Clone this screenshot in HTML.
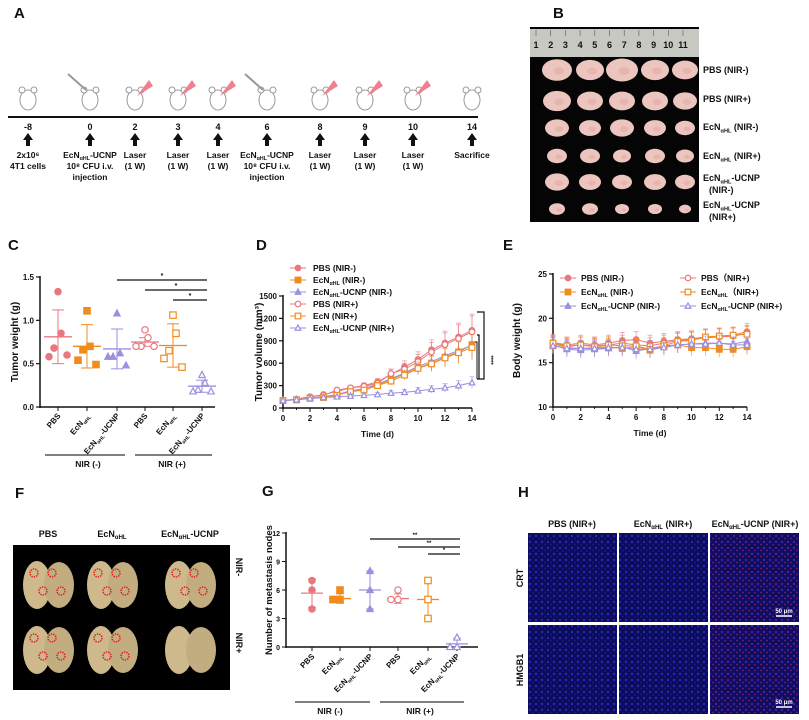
<!DOCTYPE html>
<html><head><meta charset="utf-8">
<style>
body{margin:0;background:#fff;}
svg{display:block;font-family:"Liberation Sans",Arial,sans-serif;}
text{font-family:"Liberation Sans",Arial,sans-serif;font-weight:bold;fill:#111;}
</style></head>
<body>
<svg id="fig" width="809" height="720" viewBox="0 0 809 720">
<defs>
<pattern id="cells" width="6" height="6" patternUnits="userSpaceOnUse">
<rect width="6" height="6" fill="#0c0c5a"/><circle cx="2" cy="2" r="1.2" fill="#2828b8"/><circle cx="5" cy="4.5" r="0.9" fill="#1c1c90"/></pattern>
<pattern id="cellsR" width="6" height="6" patternUnits="userSpaceOnUse">
<rect width="6" height="6" fill="#120c5a"/><circle cx="2" cy="2" r="1.2" fill="#3028b8"/><circle cx="5" cy="4.5" r="0.9" fill="#702070"/></pattern>
</defs>
<text x="14" y="18" font-size="15">A</text>
<text x="553" y="18" font-size="15">B</text>
<text x="8" y="250" font-size="15">C</text>
<text x="256" y="250" font-size="15">D</text>
<text x="503" y="250" font-size="15">E</text>
<text x="15" y="498" font-size="15">F</text>
<text x="262" y="496" font-size="15">G</text>
<text x="518" y="497" font-size="15">H</text>

<g id="panelA">
<line x1="8" y1="117" x2="478" y2="117" stroke="#111" stroke-width="2"/>
</g>

<g id="panelB">
<rect x="530" y="27" width="169" height="195" fill="#050505"/>
<rect x="530" y="29" width="169" height="28" fill="#c8c8c2"/>
</g>

<g id="panelF">
<text x="48" y="537" font-size="9" text-anchor="middle">PBS</text>
<text x="112" y="537" font-size="9" text-anchor="middle">EcN<tspan font-size="6" dy="2">αHL</tspan></text>
<text x="190" y="537" font-size="9" text-anchor="middle">EcN<tspan font-size="6" dy="2">αHL</tspan><tspan dy="-2">-UCNP</tspan></text>
<rect x="13" y="545" width="217" height="145" fill="#000"/>
<text transform="translate(236,567) rotate(90)" font-size="9" text-anchor="middle">NIR-</text>
<text transform="translate(236,643) rotate(90)" font-size="9" text-anchor="middle">NIR+</text>
</g>

<g id="panelH">
<text x="572" y="527" font-size="9" text-anchor="middle">PBS (NIR+)</text>
<text x="663" y="527" font-size="9" text-anchor="middle">EcN<tspan font-size="6" dy="2">αHL</tspan><tspan dy="-2"> (NIR+)</tspan></text>
<text x="755" y="527" font-size="9" text-anchor="middle">EcN<tspan font-size="6" dy="2">αHL</tspan><tspan dy="-2">-UCNP (NIR+)</tspan></text>
<rect x="528" y="533" width="89" height="89" fill="url(#cells)"/>
<rect x="619" y="533" width="89" height="89" fill="url(#cells)"/>
<rect x="710" y="533" width="89" height="89" fill="url(#cellsR)"/>
<rect x="528" y="625" width="89" height="89" fill="url(#cells)"/>
<rect x="619" y="625" width="89" height="89" fill="url(#cells)"/>
<rect x="710" y="625" width="89" height="89" fill="url(#cellsR)"/>
<text x="784" y="613" font-size="6" style="fill:#fff" text-anchor="middle">50 μm</text>
<line x1="776" y1="616" x2="792" y2="616" stroke="#fff" stroke-width="1.5"/>
<text x="784" y="704" font-size="6" style="fill:#fff" text-anchor="middle">50 μm</text>
<line x1="776" y1="707" x2="792" y2="707" stroke="#fff" stroke-width="1.5"/>
<text transform="translate(523,578) rotate(-90)" font-size="9" text-anchor="middle">CRT</text>
<text transform="translate(523,670) rotate(-90)" font-size="9" text-anchor="middle">HMGB1</text>
</g>
</svg>
<script>
const NS='http://www.w3.org/2000/svg';
const svg=document.getElementById('fig');
const PINK='#e8787e',ORANGE='#f08c1e',PURPLE='#9a8fe0';
const timelineDays=['-8','0','2','3','4','6','8','9','10','14'];
const timelineX=[28,90,135,178,218,267,320,365,413,472];
const timelineText=[['2x10⁶','4T1 cells'],['EcNαHL-UCNP','10⁸ CFU  i.v.','injection'],['Laser','(1 W)'],['Laser','(1 W)'],['Laser','(1 W)'],['EcNαHL-UCNP','10⁸ CFU  i.v.','injection'],['Laser','(1 W)'],['Laser','(1 W)'],['Laser','(1 W)'],['Sacrifice']];
const groupLabels=['PBS','EcNαHL','EcNαHL-UCNP','PBS','EcNαHL','EcNαHL-UCNP'];
const groupColors=[PINK,ORANGE,PURPLE,PINK,ORANGE,PURPLE];
const groupFilled=[true,true,true,false,false,false];
const groupShapes=['circle','square','triangle','circle','square','triangle'];
const weightPoints=[[1.33,0.85,0.68,0.58,0.60],[1.11,0.70,0.66,0.54,0.49],[1.08,0.62,0.58,0.58,0.48],[0.89,0.80,0.70,0.70,0.70],[1.06,0.85,0.65,0.56,0.46],[0.37,0.28,0.20,0.18,0.18]];
const weightMean=[0.81,0.70,0.67,0.75,0.71,0.24];
const weightSd=[0.31,0.25,0.23,0.05,0.25,0.07];
const weightTicks=[0,0.5,1.0,1.5];
const days=[0,1,2,3,4,5,6,7,8,9,10,11,12,13,14];
const dayTicks=[0,2,4,6,8,10,12,14];
const volPbsMinus=[100,115,150,180,220,270,300,350,450,550,650,780,870,950,1040];
const volEcnMinus=[100,110,130,150,180,220,260,310,380,460,540,600,680,750,850];
const volUcnpMinus=[100,110,130,150,180,230,260,320,390,470,560,620,700,770,840];
const volPbsPlus=[100,120,150,170,240,270,290,330,460,520,620,750,850,930,1020];
const volEcnPlus=[100,110,130,140,170,220,240,300,360,440,530,590,670,740,810];
const volUcnpPlus=[100,110,125,140,150,160,170,180,200,210,230,250,270,300,340];
const volTicks=[0,300,600,900,1200,1500];
const bwPbsMinus=[17.3,17.0,17.2,17.0,17.2,17.5,17.6,17.2,17.4,17.6,17.7,17.9,18.0,18.1,18.5];
const bwEcnMinus=[16.9,16.7,16.6,16.7,16.8,16.6,16.8,16.4,16.8,17.0,16.7,16.7,16.5,16.5,16.8];
const bwUcnpMinus=[17.0,16.5,16.4,16.5,16.6,16.8,16.3,16.6,16.9,17.0,17.1,17.2,17.2,17.1,17.4];
const bwPbsPlus=[17.1,16.8,17.0,16.9,17.0,17.2,17.0,16.9,17.2,17.5,17.6,17.8,17.9,18.0,18.3];
const bwEcnPlus=[17.2,16.9,17.0,16.8,17.0,16.9,16.9,16.5,16.9,17.4,17.5,17.9,18.0,18.1,18.2];
const bwUcnpPlus=[16.9,16.6,16.6,16.6,16.7,16.7,16.5,16.5,16.7,17.0,17.1,17.1,17.2,17.0,17.0];
const bwTicks=[10,15,20,25];
const nodePoints=[[7,6,4],[6,5,5],[8,6,4],[6,5,5],[7,5,3],[1,0,0]];
const nodeMean=[5.67,5.1,6.0,5.1,5.0,0.33];
const nodeSd=[1.5,0.5,2.0,0.5,2.0,0.6];
const nodeTicks=[0,3,6,9,12];
const seriesNames=['PBS (NIR-)','EcNαHL (NIR-)','EcNαHL-UCNP (NIR-)','PBS (NIR+)','EcN (NIR+)','EcNαHL-UCNP (NIR+)'];
const tumorRowLabels=[['PBS  (NIR-)'],['PBS  (NIR+)'],['EcNαHL  (NIR-)'],['EcNαHL  (NIR+)'],['EcNαHL-UCNP','(NIR-)'],['EcNαHL-UCNP','(NIR+)']];
const tumorSizes=[[15,14,16,14,13],[14,13,13,13,12],[12,11,12,11,10],[10,10,9,10,9],[12,11,10,11,10],[8,8,7,7,6]];

function mk(tag,attrs,name,parent){
  const el=document.createElementNS(NS,tag);
  for(const k in attrs) el.setAttribute(k,attrs[k]);
  
  
  (parent||svg).appendChild(el);
  return el;
}
function label(txt,x,y,size,anchor,name,transform){
  const t=mk('text',{x:x,y:y,'font-size':size,'text-anchor':anchor||'middle'},name);
  if(transform) t.setAttribute('transform',transform);
  const i=txt.indexOf('αHL');
  if(i<0){t.textContent=txt;return t;}
  const a=document.createElementNS(NS,'tspan');a.textContent=txt.slice(0,i);t.appendChild(a);
  const b=document.createElementNS(NS,'tspan');b.textContent='αHL';b.setAttribute('font-size',size*0.62);b.setAttribute('dy',size*0.25);t.appendChild(b);
  const c=document.createElementNS(NS,'tspan');c.textContent=txt.slice(i+3);c.setAttribute('dy',-size*0.25);t.appendChild(c);
  return t;
}
function marker(shape,x,y,r,color,filled,name){
  const f=filled?color:'#fff';
  if(shape==='circle') return mk('circle',{cx:x,cy:y,r:r,fill:f,stroke:color,'stroke-width':1.2},name);
  if(shape==='square') return mk('rect',{x:x-r,y:y-r,width:2*r,height:2*r,fill:f,stroke:color,'stroke-width':1.2},name);
  return mk('polygon',{points:`${x},${y-r*1.1} ${x-r},${y+r*0.8} ${x+r},${y+r*0.8}`,fill:f,stroke:color,'stroke-width':1.2},name);
}
function linScale(d0,d1,r0,r1){return v=>r0+(v-d0)/(d1-d0)*(r1-r0);}

timelineDays.forEach((d,i)=>{
  const x=timelineX[i];
  mk('ellipse',{cx:x,cy:100,rx:8,ry:10,fill:'#fff',stroke:'#999','stroke-width':1},'mouse-body');
  mk('circle',{cx:x-6,cy:90,r:3,fill:'#fff',stroke:'#999'},'mouse-ear');
  mk('circle',{cx:x+6,cy:90,r:3,fill:'#fff',stroke:'#999'},'mouse-ear');
  if(timelineText[i][0]==='Laser') mk('polygon',{points:`${x+2},${96} ${x+14},${80} ${x+18},${86}`,fill:'#f08090'},'laser-beam');
  if(timelineText[i][0].startsWith('EcN')) mk('line',{x1:x-4,y1:90,x2:x-22,y2:74,stroke:'#999','stroke-width':2},'syringe');
  label(d,x,130,9,'middle','timeline-day');
  mk('polygon',{points:`${x},133 ${x-5},140 ${x-2},140 ${x-2},146 ${x+2},146 ${x+2},140 ${x+5},140`,fill:'#111'},'timeline-arrow');
  timelineText[i].forEach((line,j)=>label(line,x,158+j*11,8.5,'middle','timeline-note'));
});

for(let k=1;k<=11;k++){
  const x=536+(k-1)*14.7;
  mk('line',{x1:x,y1:30,x2:x,y2:36,stroke:'#555','stroke-width':0.6},'ruler-tick');
  const t=label(String(k),x,48,9,'middle','ruler-number');
  t.setAttribute('font-weight','normal');
  if(k===5||k===10) t.setAttribute('fill','#8a2030');
}
const tumorRowY=[70,101,128,156,182,209],tumorColX=[557,590,622,655,685];
tumorSizes.forEach((row,r)=>row.forEach((s,c)=>{
  mk('ellipse',{cx:tumorColX[c],cy:tumorRowY[r],rx:s,ry:s*0.72,fill:'#ecc6be'},'tumor');
  mk('ellipse',{cx:tumorColX[c]+2,cy:tumorRowY[r]+1,rx:s*0.35,ry:s*0.25,fill:'#e29a98',opacity:0.4},'tumor-highlight');
}));
const tumorLabelY=[73,102,130,159,181,208];
tumorRowLabels.forEach((ls,i)=>ls.forEach((l,j)=>label(l,703+(j?6:0),tumorLabelY[i]+j*12,9,'start','tumor-row-label')));

const lungX=[48,112,190],lungY=[585,650];
lungY.forEach((y,r)=>lungX.forEach((x,c)=>{
  mk('ellipse',{cx:x-11,cy:y,rx:14,ry:24,fill:'#cdb98c'},'lung-lobe');
  mk('ellipse',{cx:x+11,cy:y,rx:15,ry:23,fill:'#c2ad80'},'lung-lobe');
  if(!(r===1&&c===2)){
    for(let k=0;k<4;k++) mk('circle',{cx:x-14+k*9,cy:y-12+(k%2)*18,r:4,fill:'none',stroke:'#e02020','stroke-width':1.5,'stroke-dasharray':'1.5 1'},'metastasis-marker');
  }
}));

(function(){
  const y=linScale(0,1.5,407,277), X0=40;
  const xs=[58,87,117,145,173,202];
  mk('line',{x1:X0,y1:276,x2:X0,y2:408,stroke:'#111','stroke-width':1.5},'c-y-axis');
  mk('line',{x1:X0,y1:407,x2:215,y2:407,stroke:'#111','stroke-width':1.5},'c-x-axis');
  weightTicks.forEach(t=>{
    mk('line',{x1:X0-4,y1:y(t),x2:X0,y2:y(t),stroke:'#111','stroke-width':1.2},'c-y-tick');
    label(t.toFixed(1),X0-6,y(t)+3,8,'end','c-y-tick-label');
  });
  label('Tumor weight (g)',18,342,10,'middle','c-y-axis-title','rotate(-90 18 342)');
  xs.forEach((x,i)=>{
    mk('line',{x1:x,y1:407,x2:x,y2:411,stroke:'#111'},'c-x-tick');
    label(groupLabels[i],x+3,416,8,'end','c-x-tick-label',`rotate(-50 ${x+3} 416)`);
    const m=weightMean[i],s=weightSd[i],c=groupColors[i];
    mk('line',{x1:x,y1:y(m-s),x2:x,y2:y(m+s),stroke:c,'stroke-width':1},'c-error-bar');
    mk('line',{x1:x-6,y1:y(m+s),x2:x+6,y2:y(m+s),stroke:c},'c-error-cap');
    mk('line',{x1:x-6,y1:y(m-s),x2:x+6,y2:y(m-s),stroke:c},'c-error-cap');
    mk('line',{x1:x-14,y1:y(m),x2:x+14,y2:y(m),stroke:c,'stroke-width':1.3},'c-mean-line');
    const offs=[0,3,-4,-9,9];
    weightPoints[i].forEach((v,j)=>marker(groupShapes[i],x+offs[j],y(v),3.2,c,groupFilled[i],'c-data-point'));
  });
  [[117,280],[145,290],[173,300]].forEach(([x1,yy])=>{
    mk('line',{x1:x1,y1:yy,x2:207,y2:yy,stroke:'#111','stroke-width':1.2},'c-significance-bar');
    label('*',(x1+207)/2,yy-2,7,'middle','c-significance-star');
  });
  mk('line',{x1:45,y1:455,x2:125,y2:455,stroke:'#333','stroke-width':1.2},'c-group-line');
  mk('line',{x1:135,y1:455,x2:212,y2:455,stroke:'#333','stroke-width':1.2},'c-group-line');
  label('NIR (-)',88,467,8.5,'middle','c-group-label');
  label('NIR (+)',172,467,8.5,'middle','c-group-label');
})();

function lineChart(cfg){
  const x=linScale(0,14,cfg.x0,cfg.x1), y=linScale(cfg.ymin,cfg.ymax,cfg.y0,cfg.y1);
  mk('line',{x1:cfg.x0,y1:cfg.y1-1,x2:cfg.x0,y2:cfg.y0+1,stroke:'#111','stroke-width':1.5},cfg.p+'-y-axis');
  mk('line',{x1:cfg.x0,y1:cfg.y0,x2:cfg.x1,y2:cfg.y0,stroke:'#111','stroke-width':1.5},cfg.p+'-x-axis');
  cfg.yTicks.forEach(t=>{
    mk('line',{x1:cfg.x0-4,y1:y(t),x2:cfg.x0,y2:y(t),stroke:'#111','stroke-width':1.2},cfg.p+'-y-tick');
    label(String(t),cfg.x0-6,y(t)+3,8,'end',cfg.p+'-y-tick-label');
  });
  days.forEach(d=>mk('line',{x1:x(d),y1:cfg.y0,x2:x(d),y2:cfg.y0+(d%2?2:4),stroke:'#111'},cfg.p+'-x-tick'));
  dayTicks.forEach(d=>label(String(d),x(d),cfg.y0+13,8,'middle',cfg.p+'-x-tick-label'));
  label('Time (d)',(cfg.x0+cfg.x1)/2,cfg.y0+29,8.5,'middle',cfg.p+'-x-axis-title');
  label(cfg.ytitle,cfg.ytx,(cfg.y0+cfg.y1)/2,10,'middle',cfg.p+'-y-axis-title',`rotate(-90 ${cfg.ytx} ${(cfg.y0+cfg.y1)/2})`);
  cfg.series.forEach((s,i)=>{
    const c=groupColors[i];
    s.forEach((v,k)=>{const e=cfg.err(v,k);mk('line',{x1:x(k),y1:y(v-e),x2:x(k),y2:y(v+e),stroke:c,'stroke-width':0.8,opacity:0.7},cfg.p+'-error-bar');
      mk('line',{x1:x(k)-2.5,y1:y(v+e),x2:x(k)+2.5,y2:y(v+e),stroke:c,'stroke-width':0.8,opacity:0.7},cfg.p+'-error-cap');});
    mk('polyline',{points:s.map((v,k)=>x(k)+','+y(v)).join(' '),fill:'none',stroke:c,'stroke-width':1},cfg.p+'-series-line');
    s.forEach((v,k)=>marker(groupShapes[i],x(k),y(v),2.8,c,groupFilled[i],cfg.p+'-data-point'));
  });
  return {x,y};
}

(function(){
  lineChart({p:'d',x0:283,x1:472,y0:408,y1:296,ymin:0,ymax:1500,yTicks:volTicks,ytitle:'Tumor volume (mm³)',ytx:262,
    series:[volPbsMinus,volEcnMinus,volUcnpMinus,volPbsPlus,volEcnPlus,volUcnpPlus],err:(v,k)=>v*0.2*k/14+10});
  seriesNames.forEach((n,i)=>{
    const yy=268+i*12;
    mk('line',{x1:290,y1:yy,x2:306,y2:yy,stroke:groupColors[i]},'d-legend-line');
    marker(groupShapes[i],298,yy,2.8,groupColors[i],groupFilled[i],'d-legend-marker');
    label(n,313,yy+3,8.5,'start','d-legend-entry');
  });
  mk('polyline',{points:'477,312 484,312 484,379 477,379',fill:'none',stroke:'#111','stroke-width':1.2},'d-significance-bracket');
  mk('polyline',{points:'477,335 479,335 479,379',fill:'none',stroke:'#111','stroke-width':1.2},'d-significance-bracket');
  mk('polyline',{points:'475,342 477,342 477,379',fill:'none',stroke:'#111','stroke-width':1},'d-significance-bracket');
  label('****',489,360,6,'middle','d-significance-stars','rotate(90 489 360)');
})();

(function(){
  lineChart({p:'e',x0:553,x1:747,y0:407,y1:274,ymin:10,ymax:25,yTicks:bwTicks,ytitle:'Body weight (g)',ytx:520,
    series:[bwPbsMinus,bwEcnMinus,bwUcnpMinus,bwPbsPlus,bwEcnPlus,bwUcnpPlus],err:()=>0.9});
  const names=['PBS (NIR-)','EcNαHL (NIR-)','EcNαHL-UCNP (NIR-)','PBS（NIR+)','EcNαHL（NIR+)','EcNαHL-UCNP (NIR+)'];
  names.forEach((n,i)=>{
    const col=i<3?0:1, row=i%3;
    const lx=col?680:560, yy=278+row*14;
    mk('line',{x1:lx,y1:yy,x2:lx+16,y2:yy,stroke:groupColors[i]},'e-legend-line');
    marker(groupShapes[i],lx+8,yy,2.8,groupColors[i],groupFilled[i],'e-legend-marker');
    label(n,lx+21,yy+3,8.5,'start','e-legend-entry');
  });
})();

(function(){
  const y=linScale(0,12,647,533), X0=286;
  const xs=[312,340,370,398,428,457];
  mk('line',{x1:X0,y1:532,x2:X0,y2:648,stroke:'#111','stroke-width':1.5},'g-y-axis');
  mk('line',{x1:X0,y1:647,x2:478,y2:647,stroke:'#111','stroke-width':1.5},'g-x-axis');
  nodeTicks.forEach(t=>{
    mk('line',{x1:X0-4,y1:y(t),x2:X0,y2:y(t),stroke:'#111'},'g-y-tick');
    label(String(t),X0-6,y(t)+3,7,'end','g-y-tick-label');
  });
  label('Number of metastasis nodes',272,590,9.5,'middle','g-y-axis-title','rotate(-90 272 590)');
  xs.forEach((x,i)=>{
    mk('line',{x1:x,y1:647,x2:x,y2:651,stroke:'#111'},'g-x-tick');
    label(groupLabels[i],x+3,657,8,'end','g-x-tick-label',`rotate(-45 ${x+3} 657)`);
    const m=nodeMean[i],s=nodeSd[i],c=groupColors[i];
    mk('line',{x1:x,y1:y(Math.max(0,m-s)),x2:x,y2:y(m+s),stroke:c},'g-error-bar');
    mk('line',{x1:x-4,y1:y(m+s),x2:x+4,y2:y(m+s),stroke:c},'g-error-cap');
    mk('line',{x1:x-4,y1:y(Math.max(0,m-s)),x2:x+4,y2:y(Math.max(0,m-s)),stroke:c},'g-error-cap');
    mk('line',{x1:x-11,y1:y(m),x2:x+11,y2:y(m),stroke:c,'stroke-width':1.3},'g-mean-line');
    const cnt={};
    nodePoints[i].forEach(v=>{cnt[v]=(cnt[v]||0)+1;const k=cnt[v]-1;marker(groupShapes[i],x+(k?(k%2?-7:7):0),y(v),3.2,c,groupFilled[i],'g-data-point');});
  });
  [[370,539],[398,547],[428,554]].forEach(([x1,yy],j)=>{
    mk('line',{x1:x1,y1:yy,x2:460,y2:yy,stroke:'#111','stroke-width':1.2},'g-significance-bar');
    label(j<2?'**':'*',(x1+460)/2,yy-2,6,'middle','g-significance-star');
  });
  mk('line',{x1:295,y1:702,x2:370,y2:702,stroke:'#333','stroke-width':1.2},'g-group-line');
  mk('line',{x1:380,y1:702,x2:464,y2:702,stroke:'#333','stroke-width':1.2},'g-group-line');
  label('NIR (-)',330,714,8.5,'middle','g-group-label');
  label('NIR (+)',420,714,8.5,'middle','g-group-label');
})();
</script>
</body></html>
